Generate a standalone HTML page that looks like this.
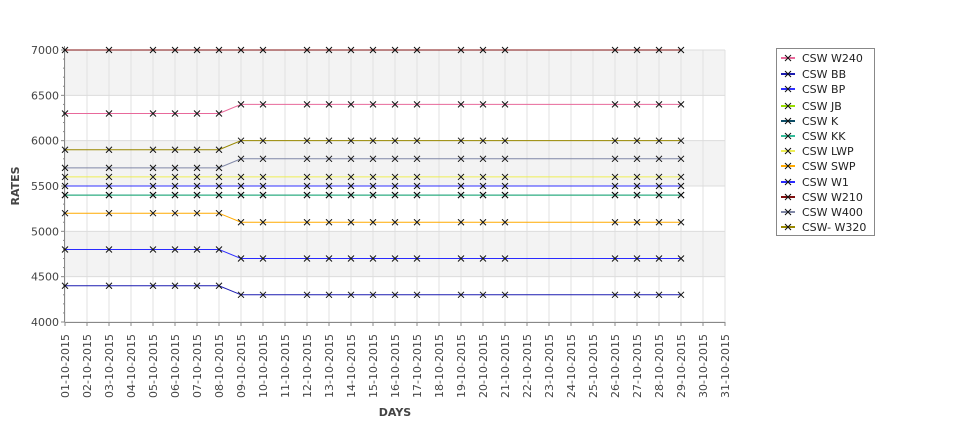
<!DOCTYPE html>
<html><head><meta charset="utf-8"><style>
body{margin:0;background:#fff;width:975px;height:429px;overflow:hidden;font-family:"Liberation Sans","DejaVu Sans",sans-serif}
</style></head><body>
<svg id="chart" width="975" height="429" xmlns="http://www.w3.org/2000/svg" font-family="DejaVu Sans, Liberation Sans, sans-serif">
<g id="bands"></g><g id="grid"></g><g id="axes"></g><g id="series"></g><g id="legend"></g>
</svg>
<script>
const days = [1,3,5,6,7,8,9,10,12,13,14,15,16,17,19,20,21,26,27,28,29];
const seriesNames = ["CSW  W240","CSW BB","CSW BP","CSW JB","CSW K","CSW KK","CSW LWP","CSW SWP","CSW W1","CSW W210","CSW W400","CSW- W320"];
const seriesColors = ["#e8699b","#1c1cb0","#3030ff","#99dd00","#0b4d66","#33bb99","#eeee55","#ffaa00","#2a2aff","#801010","#8088a8","#998800"];
const before = [6300,4400,5500,5400,5400,5400,5600,5200,4800,7000,5700,5900];
const after  = [6400,4300,5500,5400,5400,5400,5600,5100,4700,7000,5800,6000];
const yTicks = [4000,4500,5000,5500,6000,6500,7000];
const xLabels = [];
for(let d=1; d<=31; d++) xLabels.push(String(d).padStart(2,'0')+"-10-2015");

const NS="http://www.w3.org/2000/svg";
const X0=65, X1=725, Y0=322, Y1=50;
const xs = d => X0 + (d-1)*(X1-X0)/30;
const ys = v => Y0 - (v-4000)*(Y0-Y1)/3000;
function mk(tag, parent, attrs){const e=document.createElementNS(NS,tag);for(const k in attrs)e.setAttribute(k,attrs[k]);document.getElementById(parent).appendChild(e);return e;}

// bands
for(let i=0;i<yTicks.length-1;i++){
  if(i%2===0){
    const r=mk('rect','bands',{x:X0,y:ys(yTicks[i+1]),width:X1-X0,height:ys(yTicks[i])-ys(yTicks[i+1]),fill:i===1?'#fff':'#f3f3f3'});
    
    
  }
}
// shaded bands are 4500-5000, 5500-6000, 6500-7000
document.getElementById('bands').innerHTML='';
for(let i=1;i<yTicks.length-1;i+=2){
  const r=mk('rect','bands',{x:X0,y:ys(yTicks[i+1]),width:X1-X0,height:ys(yTicks[i])-ys(yTicks[i+1]),fill:'#f3f3f3'});
  
  
}
// grid
for(let d=1;d<=31;d++){
  const l=mk('line','grid',{x1:xs(d),x2:xs(d),y1:Y1,y2:Y0,stroke:'#e0e0e0','stroke-width':1});
  
  
}
yTicks.forEach(v=>{
  const l=mk('line','grid',{x1:X0,x2:X1,y1:ys(v),y2:ys(v),stroke:'#dcdcdc','stroke-width':1});
  
  
});
// axes
let a=mk('line','axes',{x1:X0-0.5,x2:X0-0.5,y1:Y1-4,y2:Y0,stroke:'#888'});


a=mk('line','axes',{x1:X0,x2:X1,y1:Y0+0.5,y2:Y0+0.5,stroke:'#888'});


for(let v=4000;v<=7000;v+=100){
  const major=v%500===0;
  mk('line','axes',{x1:X0-(major?4:2),x2:X0,y1:ys(v),y2:ys(v),stroke:'#888'});
}
yTicks.forEach(v=>{
  const t=mk('text','axes',{x:X0-6,y:ys(v)+4,'text-anchor':'end','font-size':11,fill:'#444'});
  t.textContent=v;
  
  
});
xLabels.forEach((s,i)=>{
  const x=xs(i+1);
  mk('line','axes',{x1:x,x2:x,y1:Y0,y2:Y0+4,stroke:'#888'});
  const t=mk('text','axes',{x:0,y:0,'text-anchor':'end','font-size':11,fill:'#444',transform:`translate(${x+4},${Y0+12}) rotate(-90)`});
  t.textContent=s;
  
  
});
let t=mk('text','axes',{x:395,y:416,'text-anchor':'middle','font-size':11,'font-weight':'bold',fill:'#444'});
t.textContent='DAYS';


t=mk('text','axes',{x:0,y:0,'text-anchor':'middle','font-size':11,'font-weight':'bold',fill:'#444',transform:'translate(19,186) rotate(-90)'});
t.textContent='RATES';



function cross(parent,x,y){
  const p=mk('path',parent,{d:`M${x-3},${y-3}L${x+3},${y+3}M${x-3},${y+3}L${x+3},${y-3}`,stroke:'#111','stroke-width':1});
  return p;
}
// series
seriesNames.forEach((n,si)=>{
  const pts=days.map(d=>[xs(d), ys(d<=8?before[si]:after[si])]);
  const pl=mk('polyline','series',{points:pts.map(p=>p.join(',')).join(' '),fill:'none',stroke:seriesColors[si],'stroke-width':1});
  
  
  pts.forEach(p=>{
    const m=cross('series',p[0],p[1]);
    
    
  });
});
// legend
const lb=mk('rect','legend',{x:776.5,y:48.5,width:98,height:187,fill:'#fff',stroke:'#888'});


const ly=[58,74,89,106,121,136,151,166,182,197,212,227];
seriesNames.forEach((n,i)=>{
  const y=ly[i];
  mk('line','legend',{x1:781,x2:795,y1:y,y2:y,stroke:seriesColors[i],'stroke-width':2});
  cross('legend',788,y);
  const tt=mk('text','legend',{x:802,y:y+4,'font-size':11,fill:'#222','xml:space':'preserve'});
  tt.textContent=n;
  
  
});
</script>
</body></html>
